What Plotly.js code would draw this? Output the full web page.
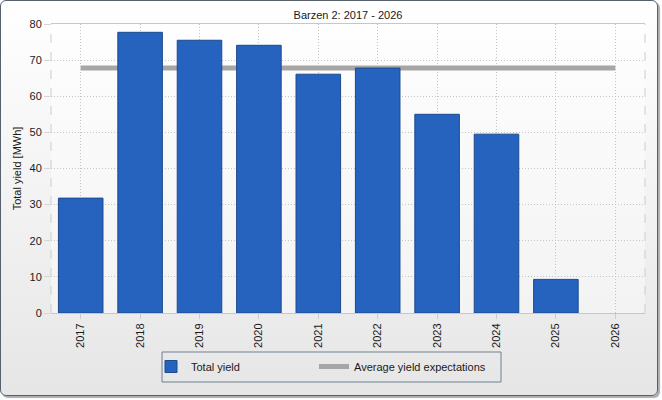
<!DOCTYPE html>
<html>
<head>
<meta charset="utf-8">
<script src="https://cdn.plot.ly/plotly-3.0.1.min.js"></script>
<style>
  body { margin: 0; background: #ffffff; }
  #frame {
    position: absolute; left: 0; top: 0;
    width: 656px; height: 394px;
    border: 1px solid #55626e; border-radius: 6px;
    box-shadow: 2px 2px 1px #a9aeb3;
    background: linear-gradient(#ffffff, #e6e6e6);
  }
  #chart { position: absolute; left: 0; top: 0; width: 662px; height: 400px; }
</style>
</head>
<body>
<div id="frame"></div>
<div id="chart"></div>
<script>
// yearly yield values (2026 has no value yet)
var years = ['2017', '2018', '2019', '2020', '2021', '2022', '2023', '2024', '2025', '2026'];
var totalYield = [31.8, 77.7, 75.5, 74.1, 66.1, 67.8, 55.0, 49.5, 9.3, null];
var avgExpectation = [67.8, 67.8, 67.8, 67.8, 67.8, 67.8, 67.8, 67.8, 67.8, 67.8];

var font = 'Liberation Sans, Arial, sans-serif';
var dots = '1px,2px';

// line on the main axes, bars on an overlay so the bars sit on top of the line
var data = [
    {
        type: 'scatter',
        mode: 'lines',
        name: 'Average yield expectations',
        x: years,
        y: avgExpectation,
        line: {color: '#a6a6a6', width: 5},
        legend: 'legend2'
    },
    {
        type: 'bar',
        name: 'Total yield',
        x: years,
        y: totalYield,
        xaxis: 'x2',
        yaxis: 'y2',
        marker: {color: '#2563bf', line: {color: '#1b4a8e', width: 1}},
        legend: 'legend'
    }
];

var legendBase = {
    orientation: 'h',
    xref: 'container', xanchor: 'left',
    yref: 'container', y: 0.12, yanchor: 'top',
    borderwidth: 0,
    bgcolor: 'rgba(0,0,0,0)',
    font: {size: 11}
};

var layout = {
    width: 662,
    height: 400,
    margin: {l: 51, r: 17, t: 24, b: 87},
    paper_bgcolor: 'rgba(0,0,0,0)',
    plot_bgcolor: 'rgba(255,255,255,0.4)',
    font: {family: font, size: 11, color: '#1a1a1a'},
    bargap: 0.25,
    title: {
        text: 'Barzen 2: 2017 - 2026',
        font: {size: 11, color: '#1a1a1a'},
        xref: 'paper', x: 0.5,
        yref: 'container', y: 0.963, yanchor: 'middle'
    },
    xaxis: {
        type: 'category',
        tickangle: -90,
        showgrid: true,
        gridcolor: '#c4c4c4',
        griddash: dots,
        ticks: 'outside',
        ticklen: 5,
        tickcolor: '#cdcdcd',
        showline: true,
        linecolor: '#c4c8cc',
        mirror: true,
        zeroline: false
    },
    yaxis: {
        range: [0, 80],
        dtick: 10,
        showgrid: true,
        gridcolor: '#c4c4c4',
        griddash: dots,
        ticks: 'outside',
        ticklen: 6,
        tickcolor: '#d6d6d6',
        showline: false,
        zeroline: false,
        title: {text: 'Total yield [MWh]', font: {size: 11}, standoff: 5}
    },
    xaxis2: {type: 'category', overlaying: 'x', matches: 'x', visible: false},
    yaxis2: {overlaying: 'y', range: [0, 80], visible: false},
    shapes: [
        {type: 'line', xref: 'paper', yref: 'paper', x0: 0, x1: 0, y0: 0, y1: 1,
         line: {color: '#cdcdcd', width: 1, dash: 'dash'}},
        {type: 'line', xref: 'paper', yref: 'paper', x0: 1, x1: 1, y0: 0, y1: 1,
         line: {color: '#cdcdcd', width: 1, dash: 'dash'}},
        // legend frame
        {type: 'rect', xref: 'paper', yref: 'paper',
         x0: 0.1869, x1: 0.7576, y0: -0.135, y1: -0.2388,
         line: {color: '#6f7f8e', width: 1}}
    ],
    showlegend: true,
    legend: Object.assign({}, legendBase, {x: 151 / 662}),
    legend2: Object.assign({}, legendBase, {x: 314 / 662})
};

Plotly.newPlot('chart', data, layout, {displayModeBar: false, staticPlot: true});
</script>
</body>
</html>
